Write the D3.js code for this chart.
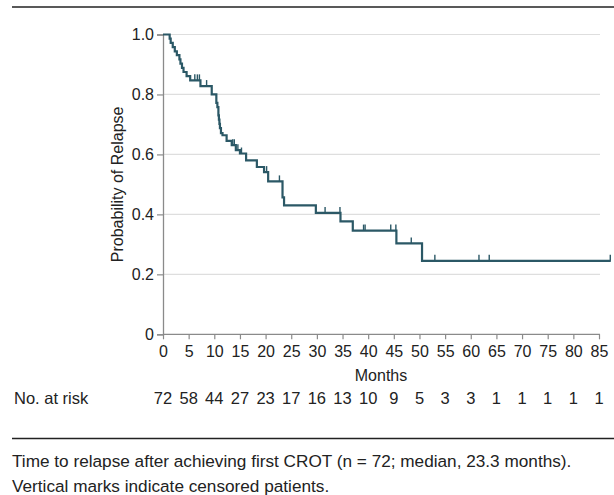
<!DOCTYPE html>
<html>
<head>
<meta charset="utf-8">
<script src="https://cdn.jsdelivr.net/npm/d3@7"></script>
<style>
  html, body { margin: 0; padding: 0; background: #fff; }
  svg { display: block; }
  .axis text { font-family: "Liberation Sans", Arial, sans-serif; font-size: 16px; fill: #222; }
  .note { font-family: "Liberation Sans", Arial, sans-serif; font-size: 16.5px; fill: #222; }
  .caption { font-family: "Liberation Sans", Arial, sans-serif; font-size: 17.2px; fill: #222; }
</style>
</head>
<body>
<div id="chart"></div>
<script>
// Kaplan-Meier steps: time (months) and probability after each event
const stepTimes = [0, 1.3, 1.5, 1.9, 2.3, 2.7, 3.2, 3.4, 3.7, 4.0, 4.6, 5.3, 7.3, 9.5,
  10.4, 10.6, 10.8, 10.9, 11.0, 11.1, 11.3, 11.6, 12.4, 13.4, 14.2, 15.0, 16.2, 18.3,
  19.7, 20.5, 23.3, 23.6, 29.8, 34.6, 37.0, 45.5, 50.5];
const stepProbs = [1, 0.986, 0.972, 0.958, 0.944, 0.931, 0.917, 0.903, 0.889, 0.875, 0.861, 0.847, 0.828, 0.800,
  0.772, 0.758, 0.730, 0.716, 0.702, 0.688, 0.671, 0.664, 0.645, 0.631, 0.614, 0.603, 0.580, 0.558,
  0.541, 0.510, 0.457, 0.430, 0.405, 0.377, 0.346, 0.303, 0.245];
const lastTime = 87.3;

// censored patients (months)
const censorTimes = [6.2, 6.7, 7.1, 8.5, 13.6, 13.9, 14.6, 15.3, 20.2, 22.7, 31.6, 34.5,
  39.1, 39.4, 44.4, 45.4, 48.4, 53.0, 61.6, 63.6, 87.2];

const xTicks = [0, 5, 10, 15, 20, 25, 30, 35, 40, 45, 50, 55, 60, 65, 70, 75, 80, 85];
const atRisk = [72, 58, 44, 27, 23, 17, 16, 13, 10, 9, 5, 3, 3, 1, 1, 1, 1, 1];
const yTicks = [0, 0.2, 0.4, 0.6, 0.8, 1.0];
const yTickLabels = ['0', '0.2', '0.4', '0.6', '0.8', '1.0'];

const captionLines = [
  'Time to relapse after achieving first CROT (n = 72; median, 23.3 months).',
  'Vertical marks indicate censored patients.'
];

const width = 614, height = 495;
const lineColor = '#2b5866';

const svg = d3.select('#chart').append('svg')
  .attr('width', width)
  .attr('height', height);

const x = d3.scaleLinear().domain([0, 85]).range([163, 599]);
const y = d3.scaleLinear().domain([0, 1]).range([334.3, 34.5]);

// rules top / bottom
svg.append('line').attr('x1', 12).attr('x2', width).attr('y1', 7).attr('y2', 7)
  .attr('stroke', '#222').attr('stroke-width', 1.5);
svg.append('line').attr('x1', 12).attr('x2', width).attr('y1', 438.5).attr('y2', 438.5)
  .attr('stroke', '#222').attr('stroke-width', 1.5);

// grid
svg.append('g').selectAll('line')
  .data(yTicks.filter(d => d > 0))
  .join('line')
  .attr('x1', x(0)).attr('x2', 600)
  .attr('y1', d => y(d)).attr('y2', d => y(d))
  .attr('stroke', '#dedede').attr('stroke-width', 1.2);

// axes
const xAxis = svg.append('g')
  .attr('class', 'axis')
  .attr('transform', `translate(0,${y(0)})`)
  .call(d3.axisBottom(x).tickValues(xTicks).tickSizeOuter(0).tickSize(5).tickPadding(6));

const yAxis = svg.append('g')
  .attr('class', 'axis')
  .attr('transform', `translate(${x(0)},0)`)
  .call(d3.axisLeft(y).tickValues(yTicks).tickFormat((d, i) => yTickLabels[i]).tickSizeOuter(0).tickSize(6).tickPadding(3));

svg.selectAll('.axis .domain').attr('stroke', '#8a8a8a').attr('stroke-width', 1.3);
svg.selectAll('.axis .tick line').attr('stroke', '#8a8a8a').attr('stroke-width', 1.2);
xAxis.selectAll('.domain').attr('d', `M${x(0)},0H${x(85) + 1}`);

svg.append('text')
  .attr('x', x(42.5)).attr('y', 381)
  .attr('text-anchor', 'middle')
  .style('font-family', '"Liberation Sans", Arial, sans-serif')
  .style('font-size', '16px').style('fill', '#222')
  .text('Months');

svg.append('text')
  .attr('transform', `translate(123,${y(0.5)}) rotate(-90)`)
  .attr('text-anchor', 'middle')
  .style('font-family', '"Liberation Sans", Arial, sans-serif')
  .style('font-size', '16px').style('fill', '#222')
  .text('Probability of Relapse');

// KM curve
const pts = stepTimes.map((t, i) => [t, stepProbs[i]]);
pts.push([lastTime, stepProbs[stepProbs.length - 1]]);

svg.append('path')
  .datum(pts)
  .attr('fill', 'none')
  .attr('stroke', lineColor)
  .attr('stroke-width', 2.2)
  .attr('d', d3.line().x(d => x(d[0])).y(d => y(d[1])).curve(d3.curveStepAfter));

function probAt(t) {
  const i = d3.bisectRight(stepTimes, t) - 1;
  return stepProbs[Math.max(i, 0)];
}

svg.append('g').selectAll('line')
  .data(censorTimes)
  .join('line')
  .attr('x1', d => x(d)).attr('x2', d => x(d))
  .attr('y1', d => y(probAt(d)))
  .attr('y2', d => y(probAt(d)) - 6)
  .attr('stroke', lineColor)
  .attr('stroke-width', 1.4);

// number at risk
svg.append('text').attr('class', 'note')
  .attr('x', 14).attr('y', 404)
  .text('No. at risk');

svg.append('g').selectAll('text')
  .data(atRisk)
  .join('text')
  .attr('class', 'note')
  .attr('x', (d, i) => x(xTicks[i]))
  .attr('y', 404)
  .attr('text-anchor', 'middle')
  .text(d => d);

// caption
svg.append('g').selectAll('text')
  .data(captionLines)
  .join('text')
  .attr('class', 'caption')
  .attr('x', 12)
  .attr('y', (d, i) => 467 + i * 25)
  .text(d => d);
</script>
</body>
</html>
